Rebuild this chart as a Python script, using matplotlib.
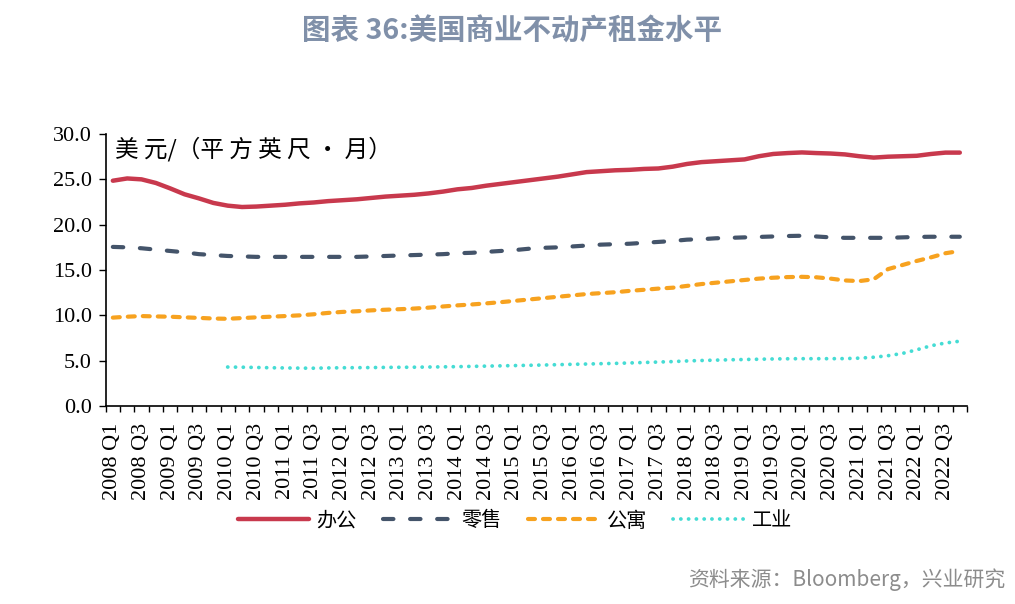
import numpy as np
import matplotlib
matplotlib.use('Agg')
import matplotlib.pyplot as plt

plt.rcParams['font.family'] = ['Noto Sans CJK SC', 'DejaVu Sans']
plt.rcParams['lines.scale_dashes'] = False

# Quarterly categories 2008 Q1 .. 2022 Q4
quarters = [f'{y} Q{q}' for y in range(2008, 2023) for q in range(1, 5)]

office = [24.85, 25.1, 25.0, 24.6, 24.0, 23.35, 22.9, 22.4, 22.1, 21.95,
          22.0, 22.1, 22.2, 22.35, 22.45, 22.6, 22.7, 22.8, 22.95, 23.1,
          23.2, 23.3, 23.45, 23.65, 23.9, 24.05, 24.3, 24.5, 24.7, 24.9,
          25.1, 25.3, 25.55, 25.8, 25.9, 26.0, 26.05, 26.15, 26.2, 26.4,
          26.7, 26.9, 27.0, 27.1, 27.2, 27.55, 27.8, 27.9, 27.97, 27.9,
          27.85, 27.75, 27.55, 27.4, 27.5, 27.55, 27.6, 27.8, 27.95, 27.95]

retail = [17.55, 17.5, 17.4, 17.25, 17.1, 16.95, 16.75, 16.65, 16.55, 16.5,
          16.45, 16.45, 16.45, 16.45, 16.45, 16.45, 16.45, 16.45, 16.5, 16.55,
          16.6, 16.65, 16.7, 16.75, 16.85, 16.9, 17.0, 17.1, 17.2, 17.35,
          17.45, 17.5, 17.6, 17.7, 17.8, 17.85, 17.9, 18.0, 18.1, 18.2,
          18.35, 18.4, 18.5, 18.55, 18.6, 18.65, 18.7, 18.75, 18.78, 18.7,
          18.6, 18.55, 18.55, 18.55, 18.55, 18.6, 18.65, 18.67, 18.67, 18.67]

apartment = [9.75, 9.85, 9.92, 9.88, 9.85, 9.78, 9.72, 9.65, 9.62, 9.7,
             9.78, 9.85, 9.92, 10.0, 10.12, 10.27, 10.38, 10.45, 10.55, 10.62,
             10.68, 10.75, 10.85, 10.98, 11.1, 11.2, 11.32, 11.45, 11.6, 11.75,
             11.9, 12.05, 12.2, 12.35, 12.45, 12.55, 12.7, 12.82, 12.95, 13.05,
             13.25, 13.45, 13.6, 13.75, 13.9, 14.05, 14.15, 14.22, 14.25, 14.2,
             14.05, 13.85, 13.78, 13.98, 15.1, 15.55, 16.0, 16.4, 16.85, 17.1]

industrial = [np.nan] * 8 + [
    4.3, 4.28, 4.25, 4.22, 4.2, 4.18, 4.17, 4.2, 4.22, 4.23,
    4.24, 4.26, 4.27, 4.28, 4.3, 4.32, 4.34, 4.37, 4.4, 4.43,
    4.46, 4.49, 4.52, 4.56, 4.6, 4.63, 4.67, 4.7, 4.75, 4.8,
    4.85, 4.9, 4.97, 5.02, 5.06, 5.1, 5.13, 5.16, 5.19, 5.21,
    5.22, 5.22, 5.22, 5.23, 5.28, 5.38, 5.55, 5.8, 6.2, 6.65,
    6.95, 7.15]

yticks = [0, 5, 10, 15, 20, 25, 30]

x = np.arange(len(quarters))

fig = plt.figure(figsize=(10.15, 6.04), dpi=100)
ax = fig.add_axes([0.1041, 0.3278, 0.8486, 0.4503])

ax.plot(x, office, color='#c8394d', lw=3.2, solid_capstyle='round', label='办公')
ax.plot(x, retail, color='#44546a', lw=3.0, dashes=(7.5, 12), dash_capstyle='round', label='零售')
ax.plot(x, apartment, color='#f7a21f', lw=3.0, dashes=(5, 5.8), dash_capstyle='round', label='公寓')
ax.plot(x, industrial, color='#45dcd4', lw=2.7, dashes=(0.1, 5.5), dash_capstyle='round', label='工业')

ax.set_xlim(-0.5, len(quarters) - 0.5)
ax.set_ylim(0, 30)
ax.set_yticks(yticks)
ax.set_yticklabels([f'{v:.1f}' for v in yticks], family='Liberation Serif', fontsize=16)

# category boundaries as major ticks, labels on every other category
ax.set_xticks(np.arange(-0.5, len(quarters), 1))
ax.set_xticklabels([])
ax.set_xticks(x[::2], minor=True)
ax.set_xticklabels(quarters[::2], minor=True, rotation=90,
                   family='Liberation Serif', fontsize=16)
ax.tick_params(axis='x', which='major', direction='out', length=4, width=1)
ax.tick_params(axis='x', which='minor', length=0, pad=12)
ax.tick_params(axis='y', direction='out', length=5, width=1, pad=5)

for s in ['top', 'right']:
    ax.spines[s].set_visible(False)
for s in ['left', 'bottom']:
    ax.spines[s].set_color('black')
    ax.spines[s].set_linewidth(1.2)

ax.text(0.011, 0.945, '美 元/（平 方 英 尺 ・ 月）', transform=ax.transAxes,
        fontsize=17, va='center', ha='left', color='black')

fig.legend(loc='center', bbox_to_anchor=(515 / 1015, 1 - 521 / 604), ncol=4,
           frameon=False, fontsize=14.5, handlelength=3.5, handletextpad=0.4,
           columnspacing=1.3)

fig.text(0.504, 0.947, '图表 36:美国商业不动产租金水平', ha='center', va='center',
         fontsize=20.5, fontweight='bold', color='#8090a9')
fig.text(0.990, 0.040, '资料来源：Bloomberg，兴业研究', ha='right', va='center',
         fontsize=15, color='#8c8c8c')

fig.savefig('out.png', dpi=100)
